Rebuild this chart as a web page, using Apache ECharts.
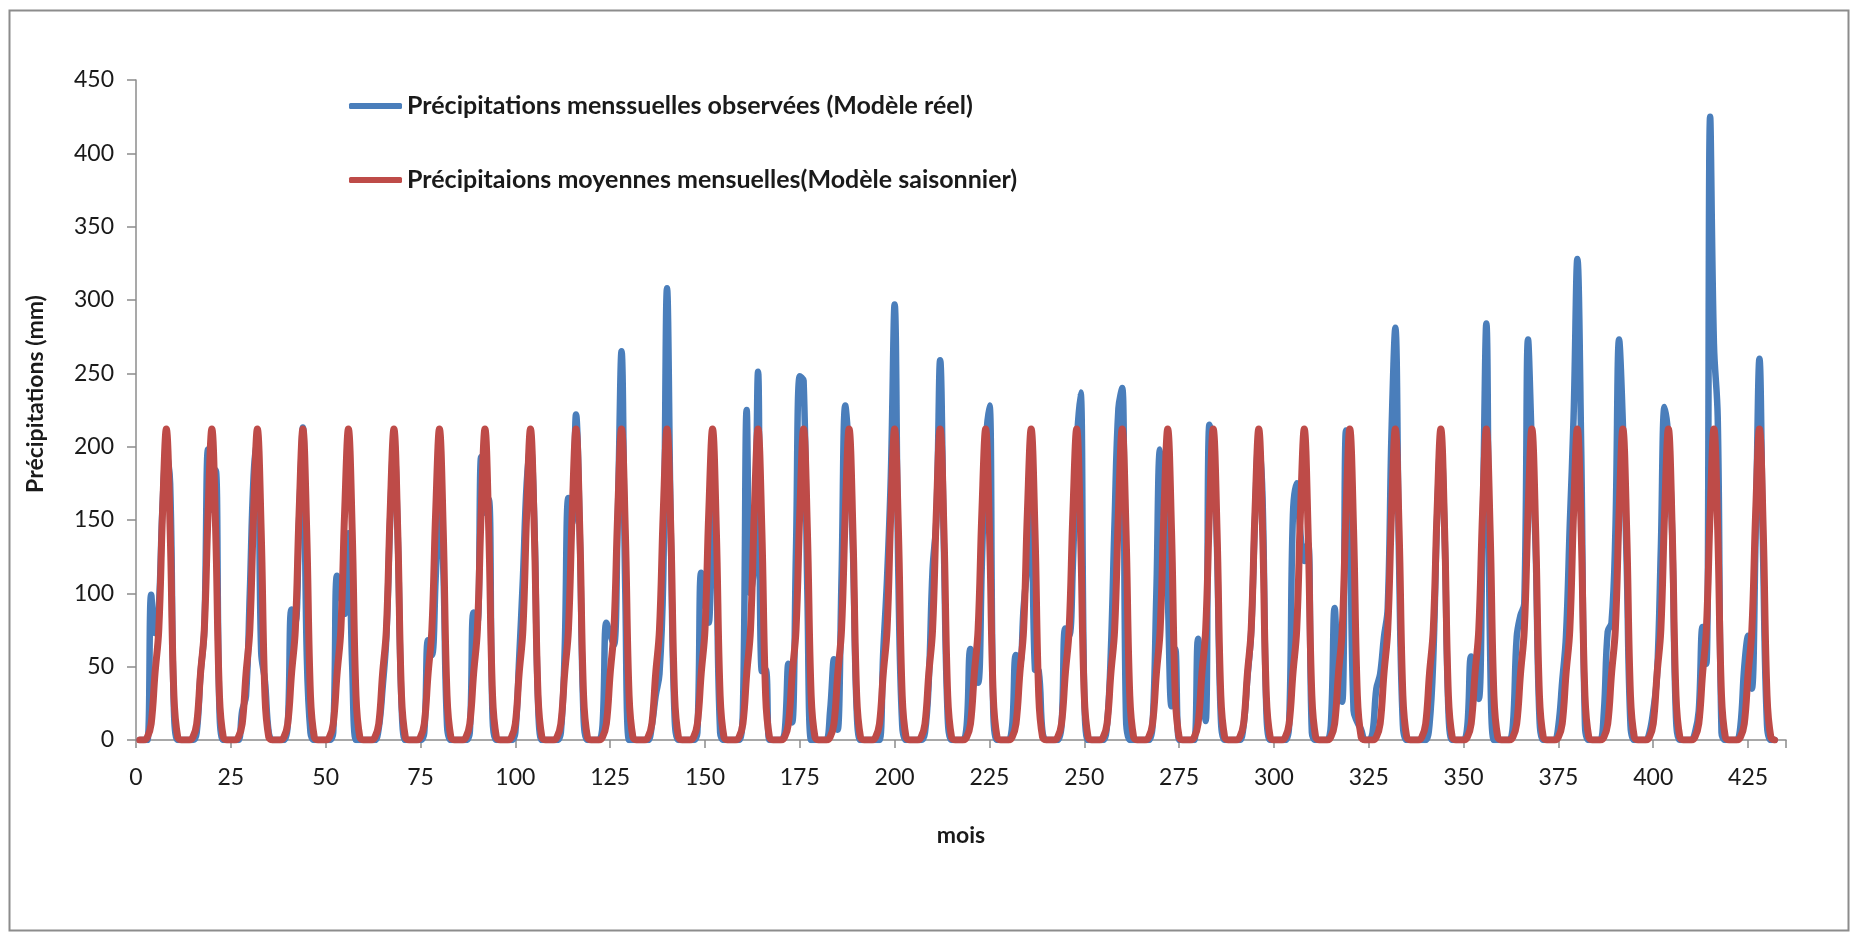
<!DOCTYPE html>
<html>
<head>
<meta charset="utf-8">
<script src="https://cdn.jsdelivr.net/npm/echarts@6/dist/echarts.min.js"></script>
<style>
  html, body { margin: 0; padding: 0; background: #ffffff; }
  #chart { width: 1854px; height: 936px; }
</style>
</head>
<body>
<div id="chart"></div>
<script>
// Observed monthly precipitation (mm), one row per year, Jan..Dec (months 1..432)
const observedByYear = [
  [0,0,0,99,73,90,160,195,175,20,0,0],
  [0,0,0,5,45,75,198,157,184,20,0,0],
  [0,0,0,20,30,100,180,205,60,40,5,0],
  [0,0,0,10,89,80,150,213,60,5,0,0],
  [0,0,0,5,112,100,86,141,50,0,0,0],
  [0,0,0,8,35,70,150,205,140,25,0,0],
  [0,0,0,5,68,58,110,168,118,10,0,0],
  [0,0,0,5,87,80,193,155,164,15,0,0],
  [0,0,0,5,55,110,175,200,150,25,0,0],
  [0,0,0,5,60,165,148,222,140,15,0,0],
  [0,0,10,80,72,65,150,265,100,0,0,0],
  [0,0,0,10,30,45,110,308,140,15,0,0],
  [0,0,0,5,114,95,80,195,120,5,0,0],
  [0,0,0,20,225,100,120,251,47,48,0,0],
  [0,0,5,52,12,130,248,245,100,0,0,0],
  [0,0,20,55,7,110,228,195,130,20,0,0],
  [0,0,0,0,60,110,180,297,110,10,0,0],
  [0,0,0,5,40,116,150,259,130,15,0,0],
  [0,0,10,62,50,39,120,200,228,20,0,0],
  [0,0,10,58,52,90,120,158,48,47,5,0],
  [0,0,0,10,76,71,120,200,237,30,0,0],
  [0,0,0,10,60,150,226,240,15,0,0,0],
  [0,0,0,10,100,198,170,100,23,62,0,0],
  [0,0,0,69,40,13,215,200,130,15,0,0],
  [0,0,0,10,42,74,150,205,165,20,0,0],
  [0,0,0,10,153,175,140,122,134,5,0,0],
  [0,0,10,90,40,26,211,150,20,12,7,0],
  [0,5,35,45,70,90,210,281,120,10,0,0],
  [0,0,0,0,10,55,150,205,140,20,0,0],
  [0,0,10,57,45,28,140,284,60,0,0,0],
  [0,0,10,70,85,93,273,200,130,15,0,0],
  [0,0,10,40,71,147,220,328,200,10,0,0],
  [0,0,20,74,80,140,273,215,120,10,0,0],
  [0,0,5,20,44,130,227,205,140,15,0,0],
  [0,0,5,20,77,52,425,270,220,5,0,0],
  [0,0,10,50,71,35,140,260,120,10,0,0]
];

// Seasonal model: mean monthly precipitation (mm), Jan..Dec, repeated each year
const seasonalMeans = [0,0,2,11,45,75,155,212,143,30,2,0];

const seriesNames = [
  'Précipitations menssuelles observées (Modèle réel)',
  'Précipitaions moyennes mensuelles(Modèle saisonnier)'
];
const xTitle = 'mois';
const yTitle = 'Précipitations (mm)';

const observedData = [];
const seasonalData = [];
observedByYear.forEach(function (row, y) {
  row.forEach(function (v, m) {
    const month = y * 12 + m + 1;
    observedData.push([month, v]);
    seasonalData.push([month, seasonalMeans[m]]);
  });
});

const FONT = 'Lato, "Open Sans", sans-serif';
const chart = echarts.init(document.getElementById('chart'), null, { renderer: 'canvas' });

chart.setOption({
  animation: false,
  backgroundColor: '#ffffff',
  grid: { left: 136, right: 68, top: 80, bottom: 196, containLabel: false },
  legend: {
    orient: 'vertical',
    left: 349,
    top: 93,
    padding: 0,
    itemWidth: 53,
    itemHeight: 6,
    itemGap: 48,
    icon: 'roundRect',
    textStyle: { fontFamily: FONT, fontWeight: 'bold', fontSize: 25, color: '#1a1a1a', lineHeight: 26 },
    data: seriesNames
  },
  xAxis: {
    type: 'value',
    min: 0,
    max: 435,
    interval: 25,
    splitLine: { show: false },
    axisLine: { lineStyle: { color: '#8c8c8c', width: 1.5 } },
    axisTick: { show: true, length: 8, lineStyle: { color: '#8c8c8c', width: 1.5 } },
    axisLabel: {
      margin: 26,
      fontFamily: FONT, fontSize: 23, color: '#1a1a1a',
      formatter: function (v) { return (v % 25 === 0) ? String(v) : ''; }
    }
  },
  yAxis: {
    type: 'value',
    min: 0,
    max: 450,
    interval: 50,
    splitLine: { show: false },
    axisLine: { show: true, lineStyle: { color: '#8c8c8c', width: 1.5 } },
    axisTick: { show: true, length: 9, lineStyle: { color: '#8c8c8c', width: 1.5 } },
    axisLabel: { margin: 22, fontFamily: FONT, fontSize: 23, color: '#1a1a1a' }
  },
  graphic: [
    {
      type: 'rect', left: 7, top: 8, z: -10,
      shape: { width: 1839, height: 920 },
      style: { fill: 'none', stroke: '#8c8c8c', lineWidth: 2 }
    },
    {
      type: 'text', x: 36, y: 394, rotation: Math.PI / 2,
      style: { text: yTitle, fontFamily: FONT, fontWeight: 'bold', fontSize: 23, fill: '#1a1a1a',
               textAlign: 'center', textVerticalAlign: 'middle' }
    },
    {
      type: 'text', x: 961, y: 836,
      style: { text: xTitle, fontFamily: FONT, fontWeight: 'bold', fontSize: 23, fill: '#1a1a1a',
               textAlign: 'center', textVerticalAlign: 'middle' }
    }
  ],
  series: [
    {
      name: seriesNames[0],
      type: 'line',
      data: observedData,
      smooth: 0.4,
      symbol: 'none',
      color: '#4A7EBB',
      lineStyle: { width: 6.5, color: '#4A7EBB', cap: 'round', join: 'round' },
      z: 2
    },
    {
      name: seriesNames[1],
      type: 'line',
      data: seasonalData,
      smooth: 0.4,
      symbol: 'none',
      color: '#BE4B48',
      lineStyle: { width: 7, color: '#BE4B48', cap: 'round', join: 'round' },
      z: 3
    }
  ]
});
</script>
</body>
</html>
